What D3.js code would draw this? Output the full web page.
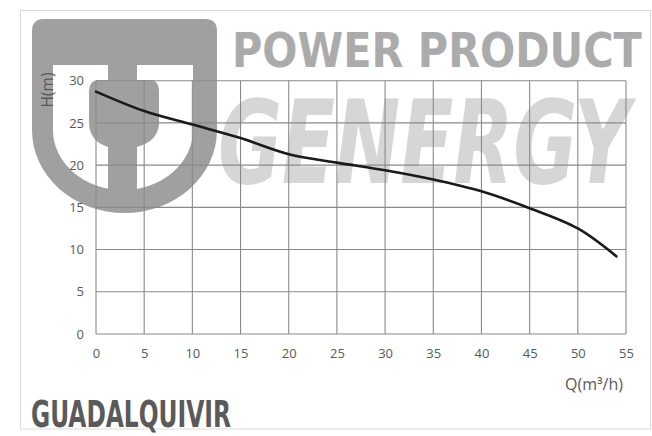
<!DOCTYPE html>
<html><head><meta charset="utf-8">
<script src="https://cdn.jsdelivr.net/npm/d3@7"></script>
<style>
html,body{margin:0;padding:0;background:#fff;}
svg{display:block;}
</style></head>
<body>
<svg id="chart" width="652" height="436"></svg>
<script>
// Data
const flowQ = [0, 5, 10, 15, 20, 25, 30, 35, 40, 45, 50, 54];
const headH = [28.7, 26.4, 24.8, 23.2, 21.3, 20.3, 19.4, 18.3, 16.9, 14.9, 12.5, 9.2];
const xTicks = [0, 5, 10, 15, 20, 25, 30, 35, 40, 45, 50, 55];
const yTicks = [0, 5, 10, 15, 20, 25, 30];
const xTitle = "Q(m³/h)";
const yTitle = "H(m)";
const modelName = "GUADALQUIVIR";

const svg = d3.select("#chart");
const plot = {left: 96, right: 626, top: 80.7, bottom: 334};

// fit a text horizontally to a target width by scaling (keeps real glyph bounds)
function fitText(sel, x0, y0, target) {
  const len = sel.node().getComputedTextLength();
  sel.attr("x", 0).attr("y", 0)
     .attr("transform", `translate(${x0},${y0}) scale(${target / len},1)`);
}

// outer light frame
svg.append("rect").attr("x", 20.5).attr("y", 10.5).attr("width", 630).attr("height", 418.5)
  .attr("fill", "#fff").attr("stroke", "#dcdcdc").attr("stroke-width", 1);

// ---- watermark (decorative) ----
const wm = svg.append("g");
const logoGray = "#a0a0a0";
wm.append("path").attr("fill", logoGray).attr("d",
  "M32,31 Q32,19 44,19 L205,19 Q217,19 217,31 L217,130 A92.5,83 0 0 1 32,130 Z");
wm.append("path").attr("fill", "#fff").attr("d",
  "M53,65 L193,65 L193,130 A70,60 0 0 1 53,130 Z");
wm.append("path").attr("fill", logoGray).attr("d",
  "M108,60 L137,60 L137,80 L150,80 Q159,80 159,92 L159,122 Q159,141 137,147 L137,200 L108,200 L108,147 Q89,141 89,122 L89,92 Q89,80 99,80 L108,80 Z");
const pp = wm.append("text")
  .attr("font-family", "'Liberation Sans Narrow','DejaVu Sans Condensed',sans-serif")
  .attr("font-size", 48).attr("font-weight", "bold").attr("fill", "#ababab")
  .text("POWER PRODUCT");
fitText(pp, 232, 67, 410);
const gy = wm.append("text")
  .attr("font-family", "'DejaVu Sans Condensed','DejaVu Sans',sans-serif")
  .attr("font-size", 116).attr("font-weight", "bold").attr("font-style", "italic")
  .attr("fill", "#d6d6d6")
  .text("GENERGY");
fitText(gy, 218, 183, 412);

// ---- scales ----
const x = d3.scaleLinear().domain([0, 55]).range([plot.left, plot.right]);
const y = d3.scaleLinear().domain([0, 30]).range([plot.bottom, plot.top]);

const gridColor = "#8a8a8a";
const grid = svg.append("g");
grid.selectAll("line.v").data(xTicks).join("line")
  .attr("x1", d => x(d)).attr("x2", d => x(d))
  .attr("y1", plot.top).attr("y2", plot.bottom)
  .attr("stroke", gridColor).attr("stroke-width", 1.1);
grid.selectAll("line.h").data(yTicks).join("line")
  .attr("y1", d => y(d)).attr("y2", d => y(d))
  .attr("x1", plot.left).attr("x2", plot.right)
  .attr("stroke", gridColor).attr("stroke-width", 1.1);

const tickFont = "'Open Sans','Liberation Sans',sans-serif";
const xAxis = svg.append("g").attr("transform", `translate(0,${plot.bottom})`)
  .call(d3.axisBottom(x).tickValues(xTicks).tickSize(0).tickPadding(15));
const yAxis = svg.append("g").attr("transform", `translate(${plot.left},0)`)
  .call(d3.axisLeft(y).tickValues(yTicks).tickSize(0).tickPadding(12));
[xAxis, yAxis].forEach(a => {
  a.select(".domain").remove();
  a.selectAll("text").attr("font-family", tickFont).attr("font-size", 13).attr("fill", "#595959");
});

// curve
const pts = flowQ.map((q, i) => [q, headH[i]]);
const line = d3.line().x(d => x(d[0])).y(d => y(d[1])).curve(d3.curveCatmullRom.alpha(0.5));
svg.append("path").datum(pts).attr("d", line)
  .attr("fill", "none").attr("stroke", "#1a1a1a").attr("stroke-width", 2.6)
  .attr("stroke-linecap", "round");

// axis titles
svg.append("text").attr("transform", "translate(53,90) rotate(-90)")
  .attr("text-anchor", "middle").attr("font-family", tickFont)
  .attr("font-size", 15.5).attr("fill", "#595959").text(yTitle);
svg.append("text").attr("x", 623).attr("y", 390).attr("text-anchor", "end")
  .attr("font-family", tickFont).attr("font-size", 16).attr("fill", "#595959").text(xTitle);

// model name
const mn = svg.append("text")
  .attr("font-family", "'Liberation Sans Narrow','DejaVu Sans Condensed',sans-serif")
  .attr("font-size", 38).attr("font-weight", "bold").attr("fill", "#5a5a5a")
  .text(modelName);
fitText(mn, 31, 427, 200);
</script>
</body></html>
